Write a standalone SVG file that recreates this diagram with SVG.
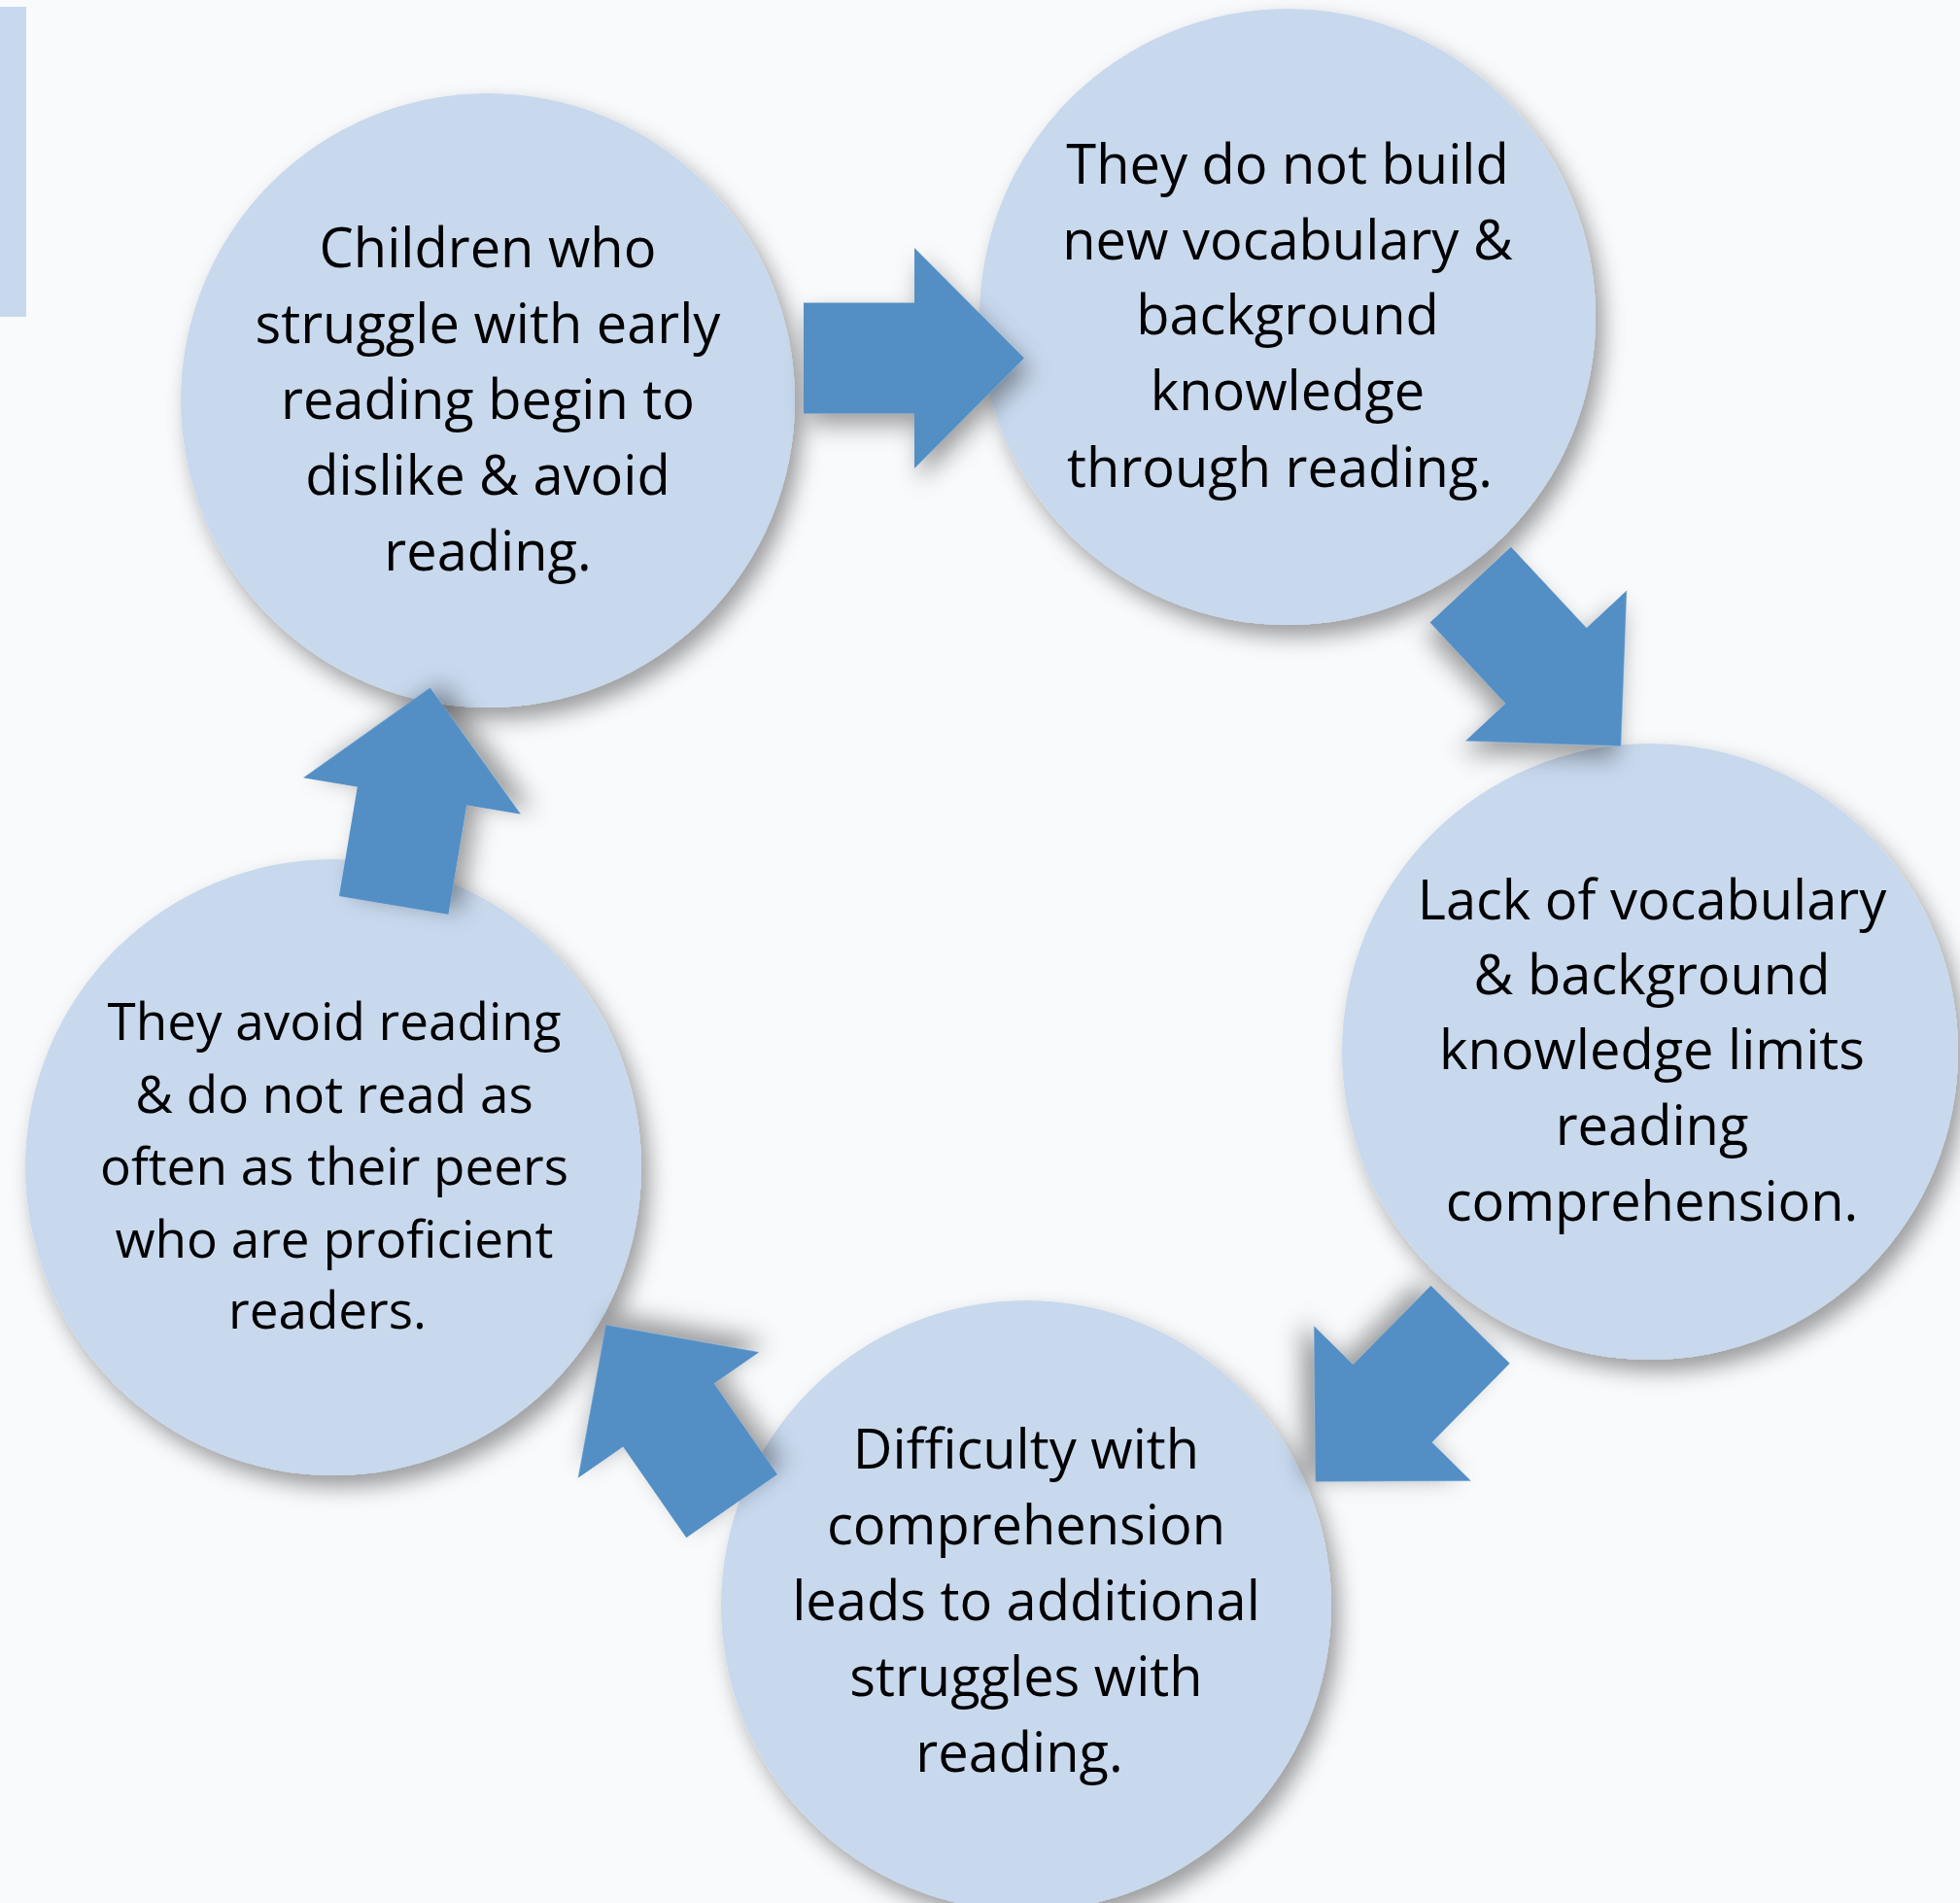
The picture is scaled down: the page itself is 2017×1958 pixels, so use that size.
<svg xmlns="http://www.w3.org/2000/svg" width="2017" height="1958" viewBox="0 0 2017 1958">
<defs>
<style>
.bubble{fill:#c8d9ee;filter:url(#sh);}
.arrow{fill:#528fc5;filter:url(#sh2);}
.t{font-family:"Open Sans","Liberation Sans",sans-serif;font-size:56px;fill:#000;text-anchor:middle;}
.t5{font-size:53px;}
</style>
<filter id="sh" x="-20%" y="-20%" width="140%" height="140%">
<feDropShadow dx="8" dy="12" stdDeviation="11" flood-color="#000" flood-opacity="0.38"/>
</filter>
<filter id="sh2" x="-30%" y="-30%" width="160%" height="160%">
<feDropShadow dx="6" dy="12" stdDeviation="12" flood-color="#000" flood-opacity="0.38"/>
</filter>
<path id="arr" d="M-114,-57 H0 V-113.5 L113,0 L0,113.5 V57 H-114 Z"/>
</defs>
<rect width="2017" height="1958" fill="#f9fafc"/>
<rect x="0" y="7" width="27" height="319" fill="#c8d9ee"/>

<g id="node1">
<circle class="bubble" cx="502" cy="412" r="316"/>
<text class="t" x="502"><tspan x="502" y="275">Children who</tspan><tspan x="502" y="353">struggle with early</tspan><tspan x="502" y="431">reading begin to</tspan><tspan x="502" y="509">dislike &amp; avoid</tspan><tspan x="502" y="587">reading.</tspan></text>
</g>
<g id="node2">
<circle class="bubble" cx="1325" cy="326" r="317"/>
<text class="t"><tspan x="1325" y="189">They do not build</tspan><tspan x="1325" y="267">new vocabulary &amp;</tspan><tspan x="1325" y="344">background</tspan><tspan x="1325" y="422">knowledge</tspan><tspan x="1317" y="501">through reading.</tspan></text>
</g>
<g id="node3">
<circle class="bubble" cx="1698" cy="1082" r="317"/>
<text class="t"><tspan x="1700" y="946">Lack of vocabulary</tspan><tspan x="1700" y="1023">&amp; background</tspan><tspan x="1700" y="1100">knowledge limits</tspan><tspan x="1700" y="1178">reading</tspan><tspan x="1700" y="1256">comprehension.</tspan></text>
</g>
<g id="node4">
<circle class="bubble" cx="1056" cy="1652" r="314"/>
<text class="t"><tspan x="1056" y="1511">Difficulty with</tspan><tspan x="1056" y="1589">comprehension</tspan><tspan x="1056" y="1667">leads to additional</tspan><tspan x="1056" y="1745">struggles with</tspan><tspan x="1049" y="1823">reading.</tspan></text>
</g>
<g id="node5">
<circle class="bubble" cx="343" cy="1201" r="317"/>
<text class="t t5"><tspan x="344" y="1070">They avoid reading</tspan><tspan x="344" y="1145">&amp; do not read as</tspan><tspan x="344" y="1219">often as their peers</tspan><tspan x="344" y="1294">who are proficient</tspan><tspan x="337" y="1367">readers.</tspan></text>
</g>

<g id="connectors">
<use href="#arr" class="arrow" transform="translate(941,368.5)"/>
<use href="#arr" class="arrow" transform="translate(1591,685) rotate(47)"/>
<use href="#arr" class="arrow" transform="translate(1433,1444) rotate(134.6)"/>
<use href="#arr" class="arrow" transform="translate(688,1456) rotate(-124.8)"/>
<use href="#arr" class="arrow" transform="translate(424,819) rotate(-80.5)"/>
</g>
</svg>
